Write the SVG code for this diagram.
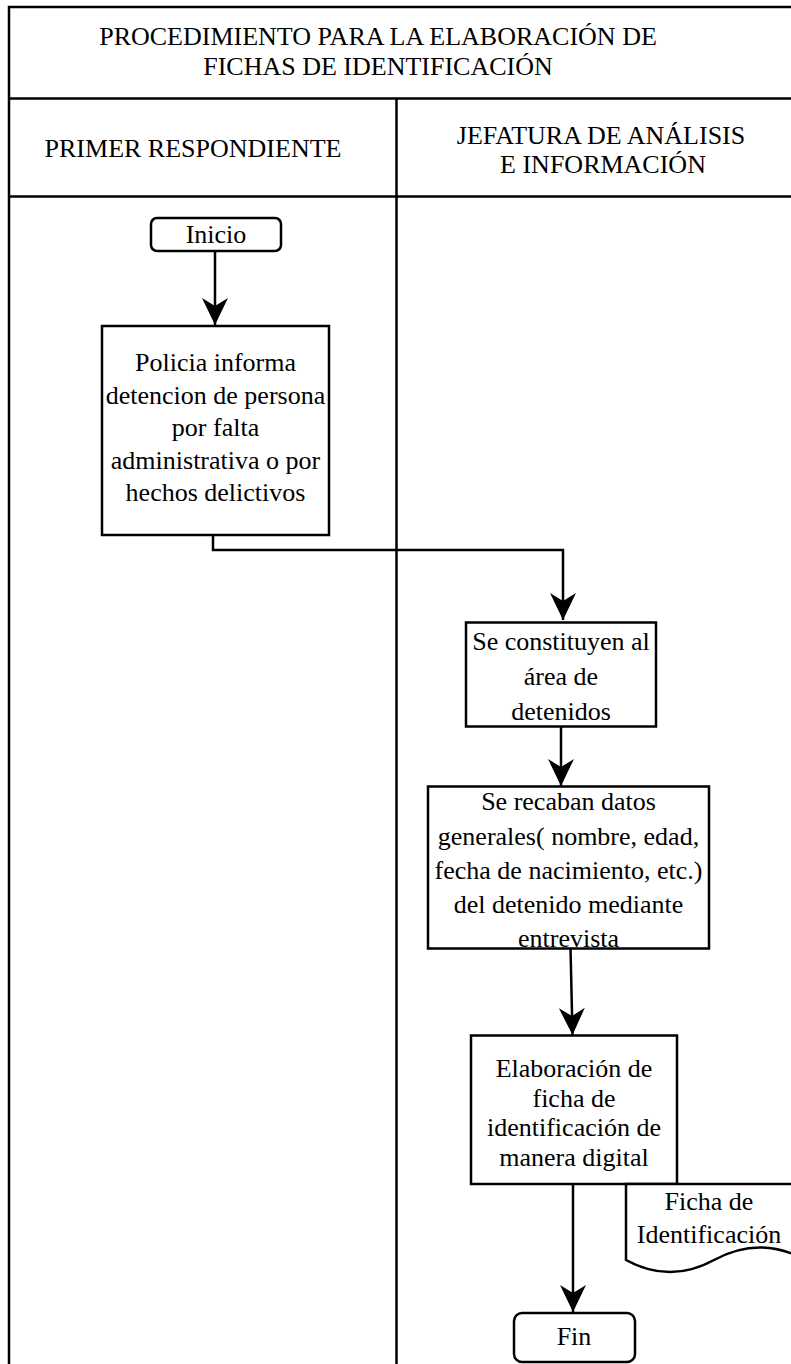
<svg xmlns="http://www.w3.org/2000/svg" width="791" height="1364" viewBox="0 0 791 1364">
<defs>
<style>
.t{font-family:"Liberation Serif","Times New Roman",serif;font-size:26px;fill:#000;text-anchor:middle}
.ln{fill:none;stroke:#000;stroke-width:2.5}
.bx{fill:#fff;stroke:#000;stroke-width:2.5}
.cn{fill:none;stroke:#000;stroke-width:2.5;marker-end:url(#ah)}
</style>
<marker id="ah" markerUnits="userSpaceOnUse" markerWidth="28" markerHeight="28" viewBox="0 0 28 28" refX="27" refY="14" orient="auto">
<path d="M0,1 L27,14 L0,27 L8,14 Z" fill="#000"/>
</marker>
</defs>
<rect width="791" height="1364" fill="#fff"/>
<g id="frame">
<path class="ln" d="M9,1364 V7 H795 M9,98.5 H795 M9,196.5 H795 M396.5,98.5 V1364"/>
<text class="t" x="378" y="45">PROCEDIMIENTO PARA LA ELABORACIÓN DE</text>
<text class="t" x="378" y="74.5">FICHAS DE IDENTIFICACIÓN</text>
</g>
<g id="lane1">
<text class="t" x="193" y="156.5">PRIMER RESPONDIENTE</text>
</g>
<g id="lane2">
<text class="t" x="601" y="143.5">JEFATURA DE ANÁLISIS</text>
<text class="t" x="603" y="173">E INFORMACIÓN</text>
</g>
<g id="connectors">
<path class="cn" d="M215,251 V325"/>
<path class="cn" d="M213,535 V550 H563 V620"/>
<path class="cn" d="M561,727 V786"/>
<path class="cn" d="M570.5,948 L572.5,1035"/>
<path class="cn" d="M573,1184 V1312"/>
</g>
<g id="inicio">
<rect class="bx" x="151" y="218" width="130" height="33" rx="6"/>
<text class="t" x="216" y="243">Inicio</text>
</g>
<g id="policia">
<rect class="bx" x="102" y="326" width="227" height="209"/>
<text class="t" x="215.5" y="371">Policia informa</text>
<text class="t" x="215.5" y="403.5">detencion de persona</text>
<text class="t" x="215.5" y="436">por falta</text>
<text class="t" x="215.5" y="468.5">administrativa o por</text>
<text class="t" x="215.5" y="501">hechos delictivos</text>
</g>
<g id="constituyen">
<rect class="bx" x="466" y="622.5" width="190" height="104"/>
<text class="t" x="561" y="650">Se constituyen al</text>
<text class="t" x="561" y="685">área de</text>
<text class="t" x="561" y="720">detenidos</text>
</g>
<g id="recaban">
<rect class="bx" x="428" y="786.5" width="281" height="162"/>
<text class="t" x="568.5" y="810">Se recaban datos</text>
<text class="t" x="568.5" y="844.5">generales( nombre, edad,</text>
<text class="t" x="568.5" y="879">fecha de nacimiento, etc.)</text>
<text class="t" x="568.5" y="913">del detenido mediante</text>
<text class="t" x="568.5" y="947">entrevista</text>
</g>
<g id="elaboracion">
<rect class="bx" x="471" y="1035.5" width="206" height="148.5"/>
<text class="t" x="574" y="1077">Elaboración de</text>
<text class="t" x="574" y="1106.5">ficha de</text>
<text class="t" x="574" y="1136">identificación de</text>
<text class="t" x="574" y="1165.5">manera digital</text>
</g>
<g id="ficha">
<path class="bx" d="M626,1184 H802 V1258 Q758,1236 714,1260 Q670,1284 626,1260 Z"/>
<text class="t" x="709" y="1210">Ficha de</text>
<text class="t" x="709" y="1243">Identificación</text>
</g>
<g id="fin">
<rect class="bx" x="514" y="1313" width="121" height="49" rx="8"/>
<text class="t" x="574" y="1345">Fin</text>
</g>
</svg>
